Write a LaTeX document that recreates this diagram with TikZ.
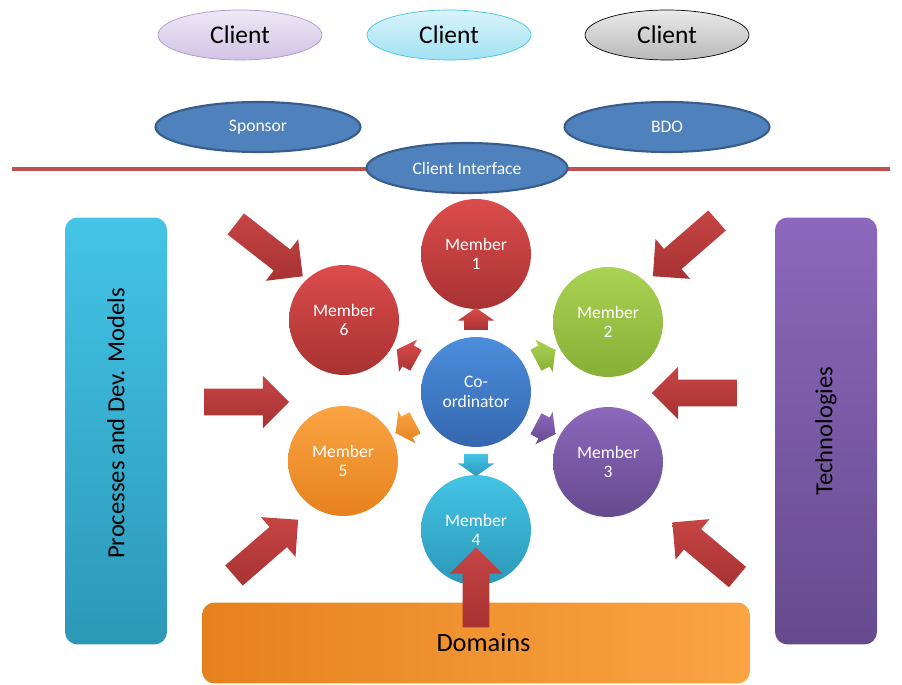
\documentclass[tikz,border=0pt]{standalone}
\usepackage{fontspec}
\setmainfont{Carlito}
\usetikzlibrary{shapes.geometric, shapes.arrows}

\definecolor{roleblue}{HTML}{4F81BD}
\definecolor{roleline}{HTML}{385D8A}
\definecolor{linered}{HTML}{C0504D}
\definecolor{redtop}{HTML}{DC4C4C}
\definecolor{redbot}{HTML}{A83232}
\definecolor{greentop}{HTML}{AAD254}
\definecolor{greenbot}{HTML}{86B036}
\definecolor{purptop}{HTML}{8C68BC}
\definecolor{purpbot}{HTML}{664A8E}
\definecolor{orngtop}{HTML}{FAA444}
\definecolor{orngbot}{HTML}{E6821E}
\definecolor{cyantop}{HTML}{44C4E6}
\definecolor{cyanbot}{HTML}{2C98B8}
\definecolor{bluetop}{HTML}{4C8EDC}
\definecolor{bluebot}{HTML}{3466AE}

\tikzset{
  client/.style={ellipse, draw, minimum width=3.28cm, minimum height=1cm,
    font=\fontsize{14.5}{16}\selectfont},
  role/.style={ellipse, draw=roleline, line width=1.2pt, fill=roleblue,
    text=white, minimum height=1cm, font=\fontsize{10}{12}\selectfont},
  member/.style={circle, minimum size=2.2cm, text=white, align=center,
    font=\fontsize{10}{11}\selectfont},
  bar/.style={rectangle, rounded corners=0.25cm, font=\fontsize{14}{16}\selectfont},
  bigarrow/.style={single arrow, minimum height=1.7cm, inner xsep=0pt, inner ysep=0.26cm,
    single arrow head extend=0.26cm,
    top color=redtop!90!black, bottom color=redbot},
  smallarrow/.style={single arrow, minimum height=0.44cm, inner xsep=0pt, inner ysep=0.23cm,
    single arrow head extend=0.13cm, single arrow tip angle=110}
}

\begin{document}
\begin{tikzpicture}[x=0.02cm, y=-0.02cm]
    \useasboundingbox (0,0) rectangle (902,685);

    % clients
    \node (c1) at (240,35) [client, draw=purptop!70, top color=purptop!15, bottom color=purptop!40] {Client};
    \node (c2) at (449,35) [client, draw=cyantop, top color=cyantop!20, bottom color=cyantop!50] {Client};
    \node (c3) at (667,35) [client, draw=black, top color=white!92!black, bottom color=white!72!black] {Client};

    % interface line and roles
    \draw [color=linered, line width=2.3pt] (12,169) -- (890,169);
    \node (sp) at (258,127) [role, minimum width=4.1cm] {Sponsor};
    \node (bdo) at (667,127) [role, minimum width=4.1cm] {BDO};
    \node (ci) at (467,168) [role, minimum width=4.02cm] {Client Interface};

    % side bars and domains
    \node (pdm) at (116,431) [bar, rotate=90, minimum width=8.54cm, minimum height=2.04cm,
        top color=cyantop, bottom color=cyanbot] {\hspace{0.3cm}Processes and Dev. Models};
    \node (tech) at (826,431) [bar, rotate=90, minimum width=8.54cm, minimum height=2.04cm,
        top color=purptop, bottom color=purpbot] {Technologies};
    \node (dom) at (476,643) [bar, minimum width=10.96cm, minimum height=1.62cm,
        left color=orngbot, right color=orngtop, font=\fontsize{15}{17}\selectfont] {\hspace{0.3cm}Domains};

    % team
    \node (co) at (476,392) [member, top color=bluetop, bottom color=bluebot] {Co-\\ordinator};
    \node (m1) at (476,254) [member, top color=redtop, bottom color=redbot] {Member\\1};
    \node (m2) at (608,322) [member, top color=greentop, bottom color=greenbot] {Member\\2};
    \node (m3) at (608,462) [member, top color=purptop, bottom color=purpbot] {Member\\3};
    \node (m4) at (476,530) [member, top color=cyantop, bottom color=cyanbot] {Member\\4};
    \node (m5) at (343,461) [member, top color=orngtop, bottom color=orngbot] {Member\\5};
    \node (m6) at (344,320) [member, top color=redtop, bottom color=redbot] {Member\\6};

    % coordinator to members
    \node (o1) at (476,323) [smallarrow, rotate=90, top color=redtop, bottom color=redbot] {};
    \node (o2) at (542,357) [smallarrow, rotate=28, top color=greentop, bottom color=greenbot] {};
    \node (o3) at (542,427) [smallarrow, rotate=-28, top color=purptop, bottom color=purpbot] {};
    \node (o4) at (476,461) [smallarrow, rotate=-90, top color=cyantop, bottom color=cyanbot] {};
    \node (o5) at (409,426) [smallarrow, rotate=-152, top color=orngtop, bottom color=orngbot] {};
    \node (o6) at (410,357) [smallarrow, rotate=151, top color=redtop, bottom color=redbot] {};

    % outside influences
    \node (i1) at (264,246) [bigarrow, rotate=-38] {};
    \node (i2) at (240,402) [bigarrow] {};
    \node (i3) at (261,552) [bigarrow, rotate=41] {};
    \node (i4) at (690,244) [bigarrow, rotate=-139] {};
    \node (i5) at (701,393) [bigarrow, rotate=180] {};
    \node (i6) at (710,554) [bigarrow, rotate=140] {};
    \node (i7) at (476,594) [bigarrow, rotate=90, minimum height=1.6cm] {};
\end{tikzpicture}
\end{document}
